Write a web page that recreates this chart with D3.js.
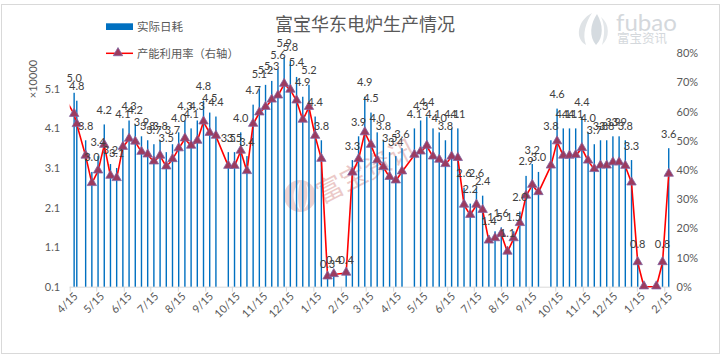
<!DOCTYPE html>
<html><head><meta charset="utf-8">
<script src="https://cdn.jsdelivr.net/npm/d3@7"></script>
<style>
body{margin:0;background:#fff}
text{font-family:Lato,"Noto Sans CJK SC",sans-serif}
</style></head>
<body><svg id="c" width="726" height="355"></svg>
<script>
// ---------- data ----------
const dates = ["2020-04-12","2020-04-20","2020-04-23","2020-05-03","2020-05-10","2020-05-17","2020-05-24","2020-05-31","2020-06-07","2020-06-14","2020-06-21","2020-06-28","2020-07-05","2020-07-12","2020-07-19","2020-07-26","2020-08-02","2020-08-09","2020-08-16","2020-08-23","2020-08-30","2020-09-06","2020-09-13","2020-09-20","2020-09-27","2020-10-11","2020-10-18","2020-10-25","2020-11-01","2020-11-08","2020-11-15","2020-11-22","2020-11-29","2020-12-06","2020-12-13","2020-12-20","2020-12-27","2021-01-03","2021-01-10","2021-01-17","2021-01-24","2021-01-31","2021-02-07","2021-02-21","2021-02-28","2021-03-07","2021-03-14","2021-03-21","2021-03-28","2021-04-04","2021-04-11","2021-04-18","2021-04-25","2021-05-09","2021-05-16","2021-05-23","2021-05-30","2021-06-06","2021-06-13","2021-06-20","2021-06-27","2021-07-04","2021-07-11","2021-07-18","2021-07-25","2021-08-01","2021-08-08","2021-08-15","2021-08-22","2021-08-29","2021-09-05","2021-09-12","2021-09-19","2021-09-26","2021-10-10","2021-10-17","2021-10-24","2021-10-31","2021-11-07","2021-11-14","2021-11-21","2021-11-28","2021-12-05","2021-12-12","2021-12-19","2021-12-26","2022-01-02","2022-01-09","2022-01-16","2022-01-23","2022-02-06","2022-02-13","2022-02-20"];
// 实际日耗 (×10000)
const dailyUse = [null,5.0,4.8,3.8,3.0,3.4,4.2,3.2,3.1,4.1,4.3,4.2,3.9,3.8,3.7,3.8,3.5,3.7,4.0,4.3,4.1,4.3,4.8,4.5,4.4,3.5,3.5,4.0,3.4,4.7,5.1,5.2,5.3,5.6,5.9,5.8,5.4,4.9,5.2,4.4,3.8,0.3,0.4,0.4,3.3,3.9,4.9,4.5,4.0,3.8,3.5,3.4,3.6,4.1,4.3,4.4,4.1,4.0,3.8,4.1,4.1,2.6,2.2,2.6,2.4,1.4,1.5,1.6,1.1,1.5,2.0,2.9,3.2,3.0,3.8,4.6,4.1,4.1,4.1,4.4,4.0,3.7,3.8,3.8,3.9,3.9,3.8,3.3,0.8,null,null,0.8,3.6];
// 产能利用率 (%)
const utilization = [63.4,59.1,55.6,44.8,35.4,39.7,48.5,37.9,37.1,47.8,50.6,49.6,46.1,45.2,42.8,44.8,41.1,43.6,47.3,50.7,48.2,49.9,56.5,52.6,51.6,41.3,41.3,46.5,39.5,55.7,59.6,61.5,64.0,65.4,69.4,67.4,63.7,57.1,61.5,51.6,43.7,3.4,4.2,4.7,39.0,43.6,52.8,48.5,43.2,40.9,37.5,36.3,39.4,45.1,46.2,48.2,44.5,43.4,41.9,44.5,44.0,28.0,24.5,28.0,26.2,15.7,16.5,18.0,11.9,16.5,21.7,31.1,34.8,32.3,41.4,49.7,44.8,44.8,45.0,47.4,43.1,40.2,41.4,41.4,42.5,42.5,41.3,35.6,8.3,0,0,8.3,38.6];
const leftTicks = [0.1,1.1,2.1,3.1,4.1,5.1];
const rightTicks = [0,0.1,0.2,0.3,0.4,0.5,0.6,0.7,0.8];
const monthTicks = ["2020-04-15","2020-05-15","2020-06-15","2020-07-15","2020-08-15","2020-09-15","2020-10-15","2020-11-15","2020-12-15","2021-01-15","2021-02-15","2021-03-15","2021-04-15","2021-05-15","2021-06-15","2021-07-15","2021-08-15","2021-09-15","2021-10-15","2021-11-15","2021-12-15","2022-01-15","2022-02-15"];
const title = "富宝华东电炉生产情况";
const seriesNames = ["实际日耗","产能利用率（右轴）"];

// ---------- layout ----------
const svg = d3.select("#c");
const parse = d3.timeParse("%Y-%m-%d");
const data = dates.map((d,i)=>({date:parse(d), use:dailyUse[i], pct:utilization[i]/100}));
const plot = {l:69.7, r:670, t:53.2, b:286.7};
const x = d3.scaleTime().domain([parse("2020-04-15"), parse("2022-02-15")]).range([69.7, 664.3]);
const yL = d3.scaleLinear().domain([0.1, 6.0]).range([plot.b, plot.t]);
const yR = d3.scaleLinear().domain([0, 0.8]).range([plot.b, plot.t]);
const textCol = "#595959";

svg.append("rect").attr("x",1.5).attr("y",4.5).attr("width",718).attr("height",349)
  .attr("fill","#fff").attr("stroke","#d9d9d9");

// watermark top-right
const wm = svg.append("g");
wm.append("path").attr("d","M592,13 C578,20 574,38 586,45 C582,34 586,22 592,13 Z").attr("fill","#dfe3e6");
wm.append("path").attr("d","M597,14 C590,24 589,37 596,45 C604,37 603,24 597,14 Z").attr("fill","#d5dbe0");
wm.append("path").attr("d","M601,17 C610,24 610,38 602,45 C605,34 605,25 601,17 Z").attr("fill","#e3e7ea");
wm.append("text").attr("x",616).attr("y",31).attr("font-size",24).attr("fill","#d4d8dc").attr("font-family","Lato").text("fubao");
wm.append("text").attr("x",617).attr("y",43).attr("font-size",12.5).attr("fill","#d4d8dc").attr("font-family","Noto Sans CJK SC").text("富宝资讯");

// center watermark
const cw = svg.append("g").attr("opacity",0.3);
cw.append("circle").attr("cx",300).attr("cy",196).attr("r",16).attr("fill","#c9706d");
cw.append("path").attr("d","M300,182 C291,190 292,203 300,210 C297,200 298,190 300,182 Z").attr("fill","#fff");
cw.append("path").attr("d","M306,184 C312,192 311,203 304,209 C308,200 308,191 306,184 Z").attr("fill","#fff");
cw.append("text").attr("transform","translate(322,204) rotate(-27)").attr("font-size",27)
  .attr("fill","#c0504d").attr("font-family","Noto Sans CJK SC").text("富宝资讯");

// title
svg.append("text").attr("x",365).attr("y",31).attr("text-anchor","middle").attr("font-size",18)
  .attr("fill",textCol).attr("font-family","Noto Sans CJK SC").text(title);

// legend
svg.append("rect").attr("x",106).attr("y",23.3).attr("width",27).attr("height",6.7).attr("fill","#0070c0");
svg.append("text").attr("x",137).attr("y",31).attr("font-size",11.5).attr("fill",textCol).attr("font-family","Noto Sans CJK SC").text(seriesNames[0]);
svg.append("line").attr("x1",106).attr("x2",133).attr("y1",53.3).attr("y2",53.3).attr("stroke","#ff0000").attr("stroke-width",1.5);
const tri = d3.symbol().type(d3.symbolTriangle).size(38);
svg.append("path").attr("d",tri()).attr("transform","translate(118,53)").attr("fill","#9c3b5f").attr("stroke","#8064a2").attr("stroke-width",0.8);
svg.append("text").attr("x",137).attr("y",57.5).attr("font-size",11.3).attr("fill",textCol).attr("font-family","Noto Sans CJK SC").text(seriesNames[1]);

// ×10000
svg.append("text").attr("transform","translate(37,79) rotate(-90)").attr("text-anchor","middle")
  .attr("font-size",11).attr("fill",textCol).text("×10000");

// axes
const gx = svg.append("g").attr("transform",`translate(0,${plot.b})`)
  .call(d3.axisBottom(x).tickValues(monthTicks.map(parse)).tickSize(5).tickFormat(d3.timeFormat("%-m/%-d")));
gx.select(".domain").attr("d",`M${plot.l},0.5H${plot.r}`).attr("stroke","#d9d9d9");
gx.selectAll(".tick line").attr("stroke","#d9d9d9");
gx.selectAll(".tick text").attr("font-size",11).attr("fill",textCol).attr("text-anchor","end")
  .attr("transform","translate(3,5) rotate(-45)").attr("dy","0.32em").attr("y",4).attr("x",0);

const gl = svg.append("g").attr("transform",`translate(${plot.l},0)`)
  .call(d3.axisLeft(yL).tickValues(leftTicks).tickSize(0).tickPadding(9.5).tickFormat(d3.format(".1f")));
gl.select(".domain").remove();
gl.selectAll("text").attr("font-size",11).attr("fill",textCol);

const gr = svg.append("g").attr("transform",`translate(${plot.r},0)`)
  .call(d3.axisRight(yR).tickValues(rightTicks).tickSize(0).tickPadding(6.5).tickFormat(d3.format(".0%")));
gr.select(".domain").remove();
gr.selectAll("text").attr("font-size",11).attr("fill",textCol);

// clip
svg.append("clipPath").attr("id","pc").append("rect").attr("x",plot.l).attr("y",0).attr("width",plot.r-plot.l).attr("height",plot.b+1);

// bars
const bars = data.filter(d=>d.use!=null);
svg.append("g").attr("clip-path","url(#pc)").selectAll("rect").data(bars).join("rect")
  .attr("x",d=>x(d.date)-0.7).attr("width",1.4)
  .attr("y",d=>yL(d.use)).attr("height",d=>plot.b-yL(d.use)).attr("fill","#0070c0");

// line
const line = d3.line().x(d=>x(d.date)).y(d=>yR(d.pct));
svg.append("path").datum(data).attr("clip-path","url(#pc)").attr("d",line)
  .attr("fill","none").attr("stroke","#ff0000").attr("stroke-width",1.6).attr("stroke-linejoin","round");
svg.append("g").selectAll("path").data(data.filter(d=>x(d.date)>=plot.l)).join("path")
  .attr("d",tri()).attr("transform",d=>`translate(${x(d.date)},${yR(d.pct)-0.5})`)
  .attr("fill","#9c3b5f").attr("stroke","#8064a2").attr("stroke-width",0.8);

// labels
svg.append("g").selectAll("text").data(bars).join("text")
  .attr("x",d=>x(d.date)).attr("y",d=>yL(d.use)-10.5).attr("text-anchor","middle")
  .attr("font-size",11).attr("fill","#404040").text(d=>d3.format(".1f")(d.use));
</script></body></html>
